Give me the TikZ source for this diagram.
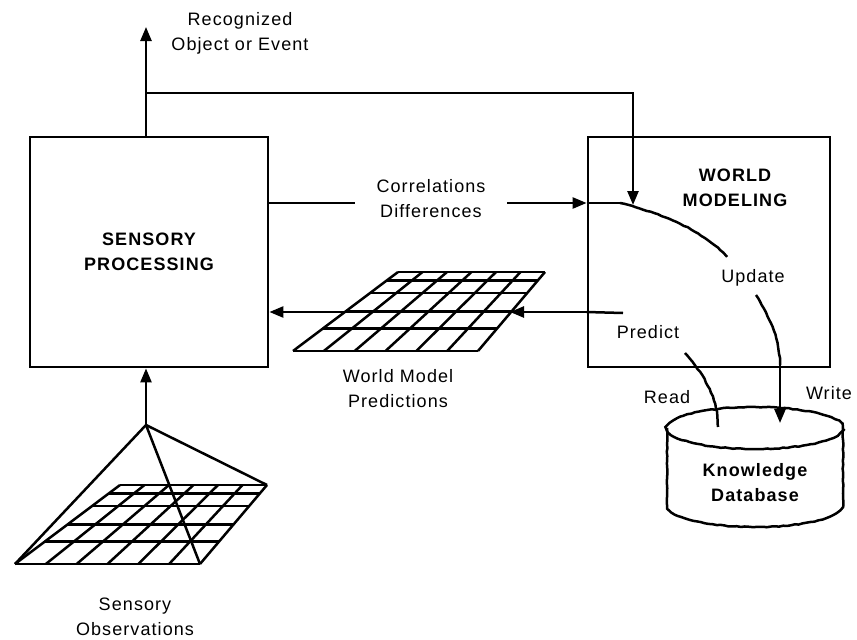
\documentclass[tikz,border=0pt]{standalone}
\usepackage{fontspec}
\newfontfamily\figfont[LetterSpace=6]{Liberation Sans}
\usetikzlibrary{arrows.meta,decorations.pathmorphing}
\tikzset{>={Triangle[length=14pt,width=11pt]}}
\tikzset{
  txt/.style={font=\figfont\fontsize{18}{25}\selectfont,align=center},
  btxt/.style={font=\figfont\bfseries\fontsize{18}{25}\selectfont,align=center},
  wiggle/.style={decorate,decoration={random steps,segment length=4pt,amplitude=0.45pt}},
  grid/.pic={
    \foreach \t in {0,.105,.265,.5,.715,1}
      \draw (-105*\t,79*\t) -- (147-67*\t,79*\t);
    \foreach \i in {0,...,6}
      \draw (147*\i/6,0) -- (-105+185*\i/6,79);
    \coordinate (-tr) at (147,0);
    \coordinate (-bl) at (-105,79);
    \coordinate (-br) at (80,79);
  }
}

\begin{document}
\begin{tikzpicture}[x=1pt,y=-1pt,line width=2.5pt]
  \useasboundingbox (0,0) rectangle (857,640);
  % the two boxes
  \node [draw,line width=2.8pt,minimum width=238pt,minimum height=230pt,btxt] (sp) at (149,252) {SENSORY\\PROCESSING};
  \node [draw,line width=2.8pt,minimum width=242pt,minimum height=230pt] (wm) at (709,252) {};
  \node [btxt] (wmtxt) at (735,188) {WORLD\\MODELING};

  % recognized output and feedback to world modeling
  \coordinate (out) at (146,27);
  \coordinate (fb) at (146,93);
  \coordinate (merge) at (633,205);
  \draw [->] (sp.north -| out) -- (out);
  \node [txt] (rec) at (240,33) {Recognized\\Object or Event};
  \draw [->] (fb) -| (merge);

  % correlations / differences
  \coordinate (cd) at (0,203);
  \node [txt] (corr) at (431,199) {Correlations\\Differences};
  \draw (sp.east |- cd) -- (355,203);
  \draw [->] (507,203) -- (wm.west |- cd);
  \draw (wm.west |- cd) -- (620,203);
  \draw [wiggle] (620,203) .. controls (665,214) and (705,232) .. (727,257);
  \node [txt] (upd) at (753,278) {Update};

  % predictions
  \pic (pred) at (398,272) {grid};
  \node [txt] (predtxt) at (398,389) {World Model\\Predictions};
  \coordinate (pl) at (0,312);
  \coordinate (ptip) at (510,312);
  \draw (623,313) -- (wm.west |- pl);
  \draw [->] (wm.west |- pl) -- (ptip);
  \draw [->] (ptip) -- (sp.east |- pl);
  \node [txt] (prd) at (648,332) {Predict};

  % knowledge database
  \draw [wiggle] (667,428) -- (667,505) arc[start angle=180,end angle=360,x radius=88pt,y radius=22pt] -- (843,428);
  \draw [wiggle] (755,428) ellipse[x radius=88pt,y radius=21pt];
  \node [btxt] (db) at (755,483) {Knowledge\\Database};
  \draw [wiggle] (685,353) .. controls (700,370) and (718,395) .. (718,427);
  \node [txt] (rd) at (667,397) {Read};
  \draw [wiggle] (756,295) .. controls (770,318) and (780,340) .. (780,365);
  \draw [->] (780,365) -- (780,423);
  \node [txt] (wr) at (829,393) {Write};

  % sensory observations
  \pic (obs) at (120,485) {grid};
  \coordinate (apex) at (146,425);
  \draw (obs-bl) -- (apex) -- (obs-tr);
  \draw (apex) -- (obs-br);
  \draw [->] (apex) -- (sp.south -| apex);
  \node [txt] (obstxt) at (135,617) {Sensory\\Observations};
\end{tikzpicture}
\end{document}
